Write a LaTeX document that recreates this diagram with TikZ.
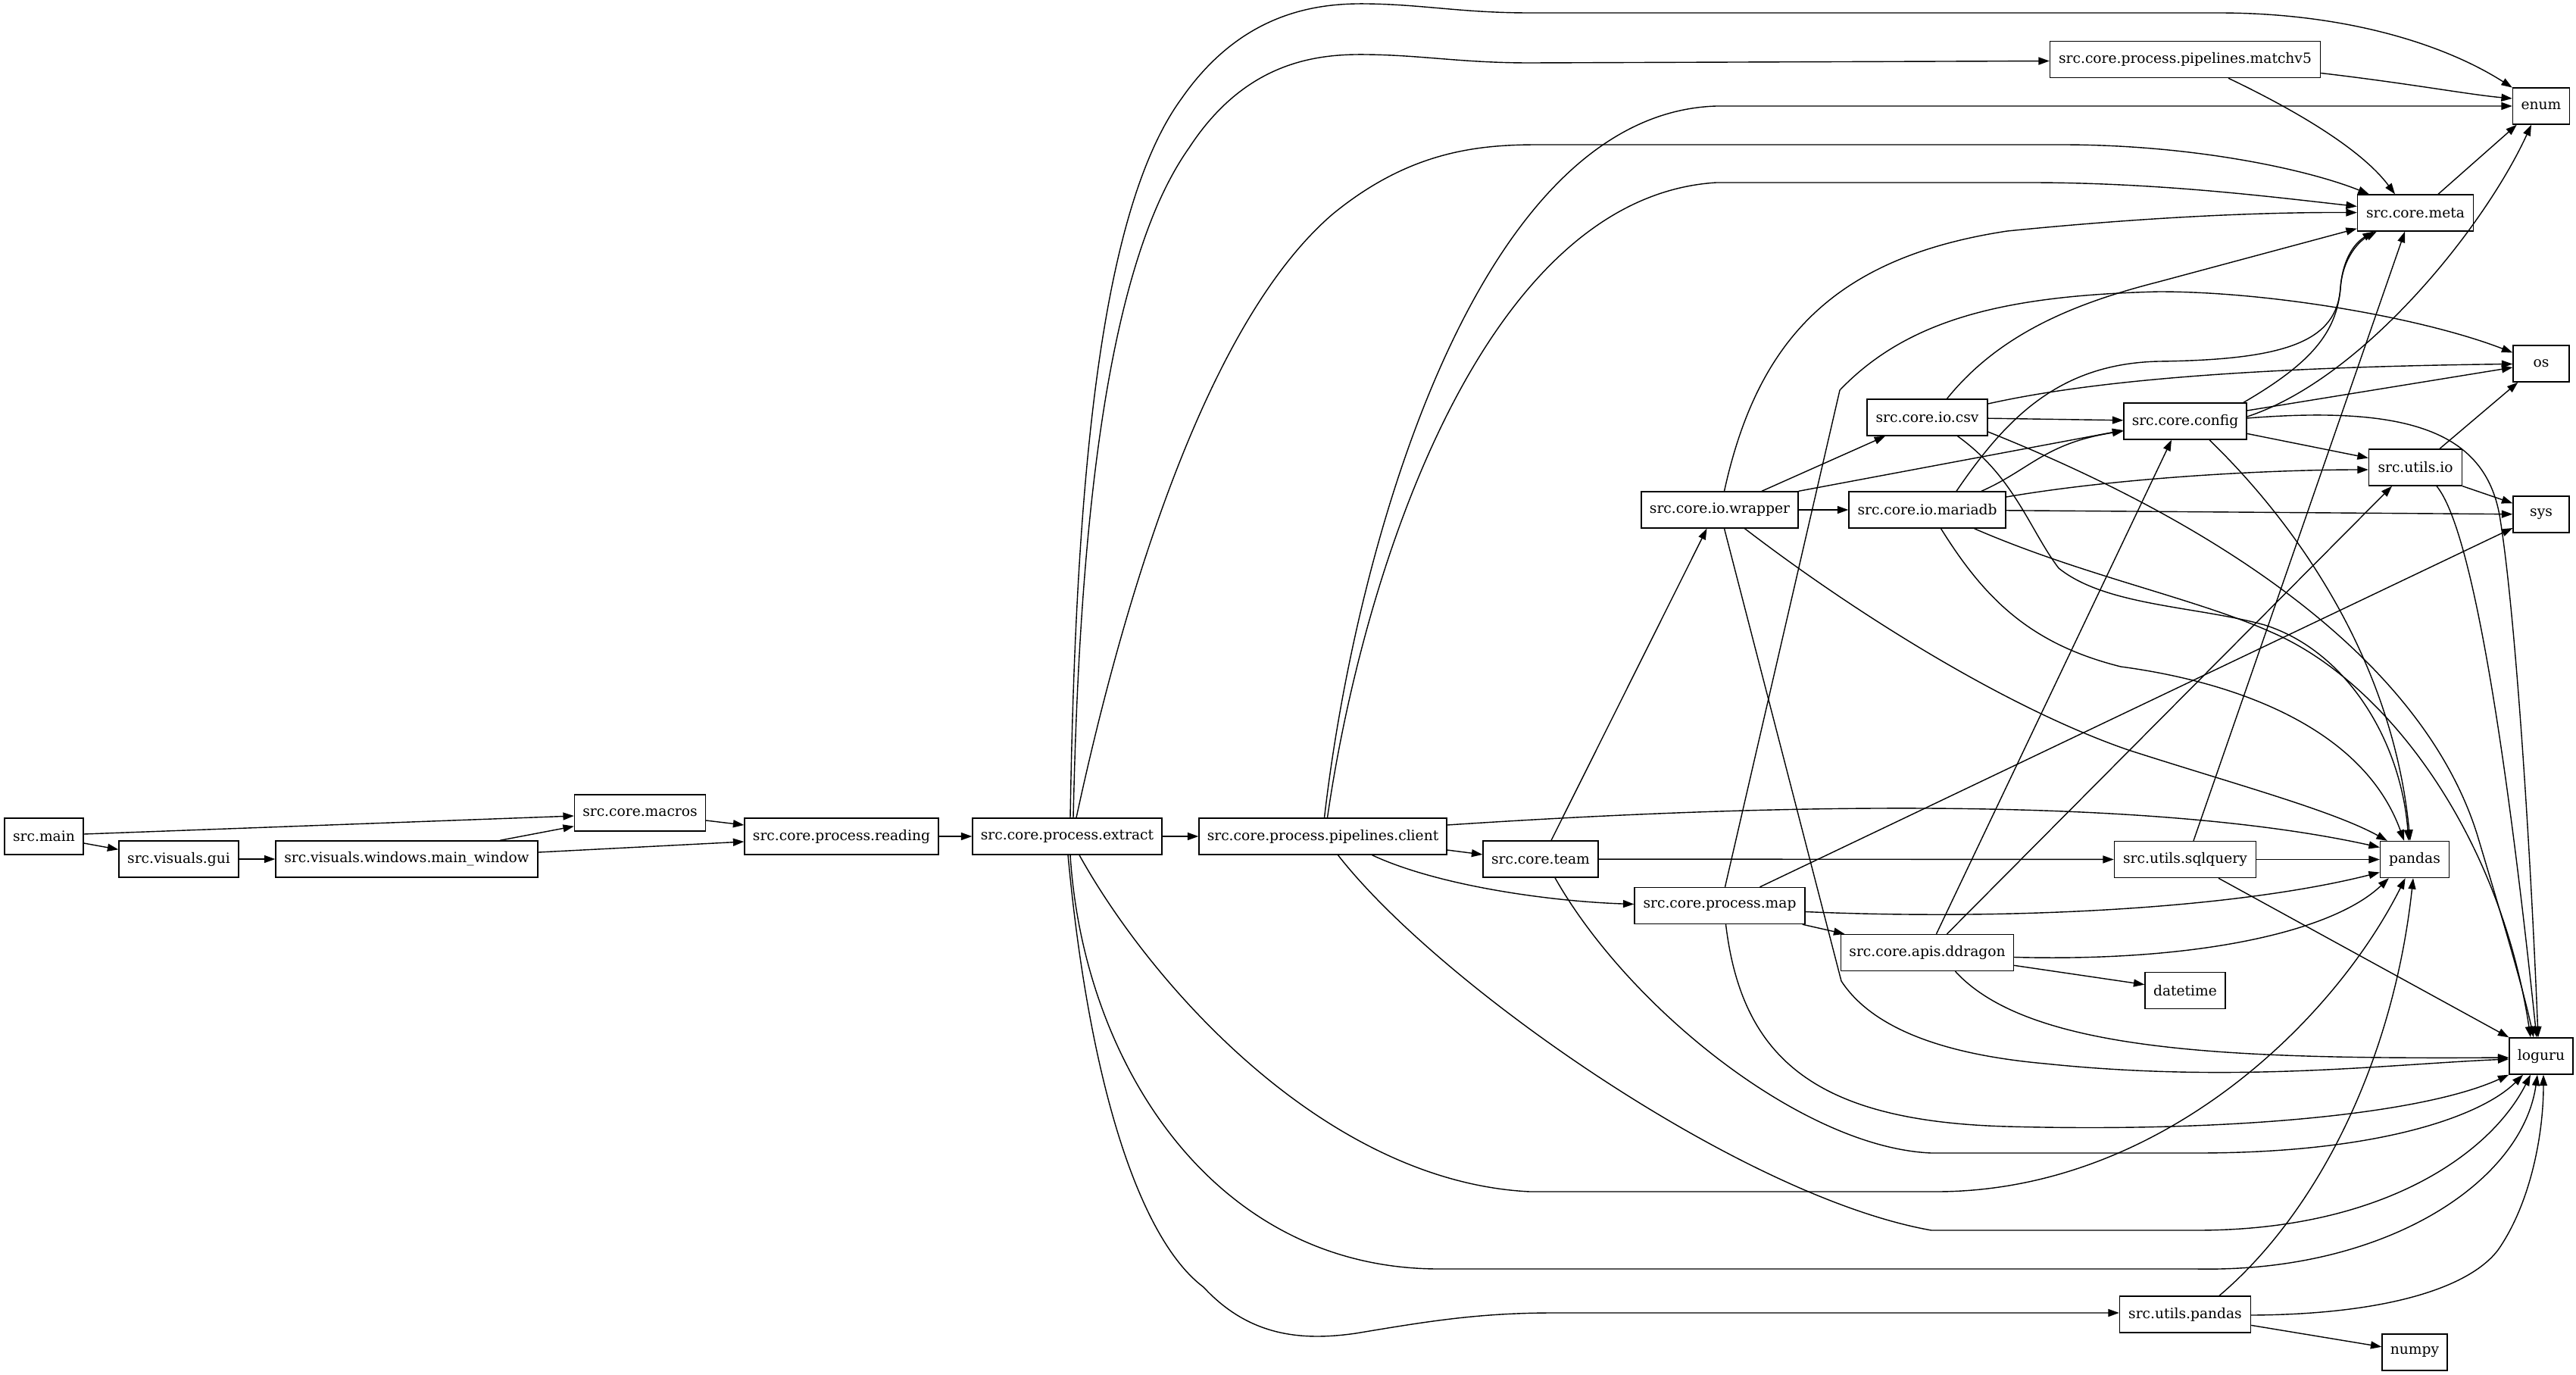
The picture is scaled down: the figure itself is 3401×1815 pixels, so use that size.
\documentclass[tikz,border=0pt]{standalone}
\usepackage{fontspec}
\setmainfont{DejaVu Serif}
\usetikzlibrary{arrows.meta,calc}
\begin{document}
\begin{tikzpicture}[x=0.5pt,y=-0.5pt,
  modbox/.style={draw=black,line width=0.7pt,rectangle,minimum height=24pt,inner sep=0pt,font=\fontsize{9.33}{11}\selectfont},
  dep/.style={draw=black,line width=0.7pt,-{Triangle[length=7.2pt,width=5pt]}},
]
\fill[white] (0,0) rectangle (3401,1815);
\useasboundingbox (0,0) rectangle (3401,1815);

\node[modbox,minimum width=52pt] (main) at (58,1104) {src.main};
\node[modbox,minimum width=79pt] (gui) at (236,1134) {src.visuals.gui};
\node[modbox,minimum width=173pt] (mainwin) at (537,1134) {src.visuals.windows.main\_window};
\node[modbox,minimum width=86.5pt] (macros) at (845,1073) {src.core.macros};
\node[modbox,minimum width=128pt] (reading) at (1111,1104) {src.core.process.reading};
\node[modbox,minimum width=125pt] (extract) at (1409,1104) {src.core.process.extract};
\node[modbox,minimum width=163.5pt] (client) at (1746.5,1104) {src.core.process.pipelines.client};
\node[modbox,minimum width=76pt] (team) at (2034,1134) {src.core.team};
\node[modbox,minimum width=112.5pt] (map) at (2270.5,1195.5) {src.core.process.map};
\node[modbox,minimum width=114pt] (ddragon) at (2544.5,1257.5) {src.core.apis.ddragon};
\node[modbox,minimum width=53pt] (datetime) at (2885,1307.5) {datetime};
\node[modbox,minimum width=93.5pt] (sqlquery) at (2885,1134.5) {src.utils.sqlquery};
\node[modbox,minimum width=45.5pt] (pandas) at (3188,1134.5) {pandas};
\node[modbox,minimum width=42pt] (loguru) at (3355,1394) {loguru};
\node[modbox,minimum width=86.5pt] (upandas) at (2885,1735) {src.utils.pandas};
\node[modbox,minimum width=43pt] (numpy) at (3188,1785) {numpy};
\node[modbox,minimum width=103.5pt] (wrapper) at (2270.5,673) {src.core.io.wrapper};
\node[modbox,minimum width=103.5pt] (mariadb) at (2544.5,673) {src.core.io.mariadb};
\node[modbox,minimum width=79.5pt] (csv) at (2544.5,551) {src.core.io.csv};
\node[modbox,minimum width=81pt] (config) at (2885,556) {src.core.config};
\node[modbox,minimum width=61.5pt] (utilsio) at (3189,617) {src.utils.io};
\node[modbox,minimum width=37pt] (os) at (3355,480) {os};
\node[modbox,minimum width=37pt] (sys) at (3355,679) {sys};
\node[modbox,minimum width=76.5pt] (meta) at (3189,281) {src.core.meta};
\node[modbox,minimum width=37.5pt] (enum) at (3355,140) {enum};
\node[modbox,minimum width=178.5pt] (matchv5) at (2885,78.5) {src.core.process.pipelines.matchv5};

% left chain
\draw[dep] ($(main.east)+(0,-3)$) -- ($(macros.west)+(0,4)$);
\draw[dep] ($(main.east)+(0,9)$) -- ($(gui.north west)+(0,12)$);
\draw[dep] (gui) -- (mainwin);
\draw[dep] ($(mainwin.north)+(123,0)$) -- ($(macros.south west)+(0,-7)$);
\draw[dep] ($(mainwin.east)+(0,-9)$) -- ($(reading.west)+(0,7)$);
\draw[dep] ($(macros.east)+(0,10)$) -- ($(reading.west)+(0,-15)$);
\draw[dep] (reading) -- (extract);
\draw[dep] (extract) -- (client);

% extract
\draw[dep] ($(extract.north)+(4,0)$) .. controls (1420,650) and (1450,280) .. (1560,130) .. controls (1640,15) and (1740,4) .. (1805,5) .. controls (1880,6) and (1930,17) .. (2020,17) -- (2929,17) .. controls (3100,17) and (3230,60) .. (enum);
\draw[dep] ($(extract.north)+(8,0)$) .. controls (1425,700) and (1460,350) .. (1570,195) .. controls (1645,80) and (1740,71) .. (1805,72) .. controls (1880,73) and (1930,83) .. (2020,83) -- ($(matchv5.west)+(0,2)$);
\draw[dep] ($(extract.north)+(12,0)$) .. controls (1490,760) and (1600,420) .. (1759,283) .. controls (1860,200) and (1950,191) .. (2030,191) -- (2722,191) .. controls (2900,191) and (3050,225) .. (meta);
\draw[dep] ($(extract.south)+(16,0)$) .. controls (1520,1300) and (1750,1560) .. (2020,1573) -- (2556,1573) .. controls (2850,1573) and (3080,1350) .. (pandas);
\draw[dep] ($(extract.south)+(4,0)$) .. controls (1430,1400) and (1600,1675) .. (1900,1675) -- (2900,1675) .. controls (3150,1680) and (3330,1560) .. ($(loguru.south)+(-5,0)$);
\draw[dep] ($(extract.south)+(1,0)$) .. controls (1440,1450) and (1510,1640) .. (1589,1699) .. controls (1650,1765) and (1720,1770) .. (1790,1760) .. controls (1880,1745) and (1950,1733) .. (2050,1733) -- ($(upandas.west)+(0,-2)$);

% client
\draw[dep] ($(client.north)+(2,0)$) .. controls (1790,720) and (1950,150) .. (2266,140) -- (enum);
\draw[dep] ($(client.north)+(6,0)$) .. controls (1800,750) and (1960,260) .. (2266,241) -- (2680,241) .. controls (2850,241) and (3000,260) .. (meta);
\draw[dep] ($(client.east)+(0,-15)$) .. controls (2500,1050) and (2900,1065) .. ($(pandas.west)+(0,-16)$);
\draw[dep] ($(client.east)+(0,18)$) -- ($(team.west)+(0,-6)$);
\draw[dep] ($(client.south)+(65,0)$) .. controls (1900,1170) and (2050,1190) .. ($(map.west)+(0,-2)$);
\draw[dep] ($(client.south)+(20,0)$) .. controls (1900,1300) and (2300,1580) .. (2550,1624) -- (2900,1624) .. controls (3150,1624) and (3290,1520) .. ($(loguru.south)+(-14,0)$);

% team
\draw[dep] ($(team.north)+(14,0)$) -- ($(wrapper.south)+(-17,0)$);
\draw[dep] (team) -- (sqlquery);
\draw[dep] ($(team.south)+(19,0)$) .. controls (2150,1330) and (2380,1515) .. (2550,1522) -- (2900,1522) .. controls (3150,1522) and (3280,1470) .. ($(loguru.south)+(-24,0)$);

% map
\draw[dep] (map) -- (ddragon);
\draw[dep] ($(map.east)+(0,8)$) .. controls (2650,1215) and (2950,1200) .. ($(pandas.west)+(0,17)$);
\draw[dep] ($(map.south)+(8,0)$) .. controls (2300,1400) and (2400,1480) .. (2650,1487) .. controls (2950,1495) and (3200,1470) .. (loguru.south west);
\draw[dep] ($(map.north)+(53,0)$) -- ($(sys.west)+(0,18)$);
\draw[dep] ($(map.north)+(7,0)$) -- (2429,515) .. controls (2520,420) and (2650,390) .. (2850,385) .. controls (3000,385) and (3200,420) .. (os);

% wrapper
\draw[dep] (wrapper) -- (csv);
\draw[dep] (wrapper) -- (mariadb);
\draw[dep] (wrapper.north east) -- ($(config.west)+(0,12)$);
\draw[dep] ($(wrapper.north)+(6,0)$) .. controls (2320,450) and (2420,340) .. (2650,305) .. controls (2850,285) and (3000,280) .. (meta);
\draw[dep] ($(wrapper.south)+(33,0)$) .. controls (2450,810) and (2650,935) .. (2810,990) .. controls (2950,1035) and (3080,1070) .. ($(pandas.north west)+(10,0)$);
\draw[dep] ($(wrapper.south)+(6,0)$) -- (2431,1295) .. controls (2480,1370) and (2600,1395) .. (2700,1404) .. controls (2950,1430) and (3150,1405) .. ($(loguru.west)+(0,4)$);

% csv
\draw[dep] (csv) -- (config);
\draw[dep] ($(csv.east)+(0,-18)$) .. controls (2750,505) and (2950,485) .. (os);
\draw[dep] ($(csv.north)+(26,0)$) .. controls (2640,440) and (2740,400) .. (2850,372) -- (meta);
\draw[dep] ($(csv.south)+(40,0)$) .. controls (2660,630) and (2680,700) .. (2718,750) .. controls (2780,800) and (2900,800) .. (2990,825) .. controls (3100,860) and (3170,980) .. ($(pandas.north)+(-8,0)$);
\draw[dep] ($(csv.east)+(0,19)$) .. controls (2950,700) and (3200,880) .. (3270,1100) .. controls (3300,1200) and (3330,1300) .. ($(loguru.north)+(-10,0)$);

% mariadb
\draw[dep] ($(mariadb.north)+(71.5,0)$) .. controls (2680,620) and (2700,585) .. ($(config.west)+(0,13)$);
\draw[dep] ($(mariadb.east)+(0,-17)$) .. controls (2800,630) and (3000,620) .. ($(utilsio.west)+(0,3)$);
\draw[dep] (mariadb) -- (sys);
\draw[dep] ($(mariadb.north)+(38.5,0)$) .. controls (2650,550) and (2720,480) .. (2850,477) .. controls (3020,475) and (3085,450) .. (3090,380) .. controls (3093,340) and (3110,320) .. ($(meta.south west)+(22,0)$);
\draw[dep] ($(mariadb.south)+(18,0)$) .. controls (2620,790) and (2680,850) .. (2800,880) .. controls (2950,900) and (3120,960) .. ($(pandas.north)+(-14,0)$);
\draw[dep] ($(mariadb.south)+(62,0)$) .. controls (2750,760) and (2900,790) .. (3000,835) .. controls (3150,900) and (3300,1100) .. ($(loguru.north)+(-14,0)$);

% config
\draw[dep] ($(config.east)+(0,-14)$) -- ($(os.west)+(0,5)$);
\draw[dep] ($(config.east)+(0,-6)$) .. controls (3120,500) and (3280,300) .. ($(enum.south)+(-13,0)$);
\draw[dep] ($(config.north)+(77,0)$) .. controls (3050,480) and (3085,440) .. (3090,380) .. controls (3093,340) and (3115,318) .. ($(meta.south west)+(26,0)$);
\draw[dep] (config) -- (utilsio);
\draw[dep] ($(config.south)+(32,0)$) .. controls (3040,700) and (3160,880) .. ($(pandas.north)+(-6,0)$);
\draw[dep] ($(config.east)+(0,-4)$) .. controls (3180,535) and (3280,570) .. (3300,680) .. controls (3320,800) and (3340,1100) .. ($(loguru.north)+(-4,0)$);

% utils.io
\draw[dep] ($(utilsio.north)+(32,0)$) -- ($(os.south west)+(7,0)$);
\draw[dep] (utilsio.south east) -- ($(sys.north west)+(0,10)$);
\draw[dep] ($(utilsio.south)+(28,0)$) .. controls (3265,700) and (3310,1000) .. ($(loguru.north)+(-6,0)$);

% ddragon
\draw[dep] ($(ddragon.north)+(12,0)$) -- ($(config.south)+(-18,0)$);
\draw[dep] ($(ddragon.north)+(26,0)$) -- ($(utilsio.south)+(-31,0)$);
\draw[dep] ($(ddragon.east)+(0,6)$) .. controls (2900,1270) and (3080,1230) .. ($(pandas.south west)+(12,0)$);
\draw[dep] (ddragon) -- (datetime);
\draw[dep] ($(ddragon.south)+(37,0)$) .. controls (2680,1390) and (2950,1398) .. ($(loguru.west)+(0,2)$);

% sqlquery
\draw[dep] (sqlquery) -- (pandas);
\draw[dep] ($(sqlquery.south)+(44,0)$) -- (loguru.north west);
\draw[dep] ($(sqlquery.north)+(11,0)$) -- ($(meta.south)+(-14,0)$);

% utils.pandas
\draw[dep] ($(upandas.north)+(45,0)$) .. controls (3060,1600) and (3160,1400) .. ($(pandas.south)+(-2,0)$);
\draw[dep] ($(upandas.east)+(0,1)$) .. controls (3150,1735) and (3260,1700) .. (3298,1650) .. controls (3340,1590) and (3358,1500) .. ($(loguru.south)+(3,0)$);
\draw[dep] (upandas) -- (numpy);

% matchv5, meta
\draw[dep] ($(matchv5.east)+(0,18)$) .. controls (3180,110) and (3260,125) .. ($(enum.west)+(0,-10)$);
\draw[dep] ($(matchv5.south)+(57,0)$) .. controls (3040,150) and (3120,200) .. ($(meta.north)+(-27,0)$);
\draw[dep] ($(meta.north)+(30,0)$) -- ($(enum.south west)+(6,0)$);
\end{tikzpicture}
\end{document}
